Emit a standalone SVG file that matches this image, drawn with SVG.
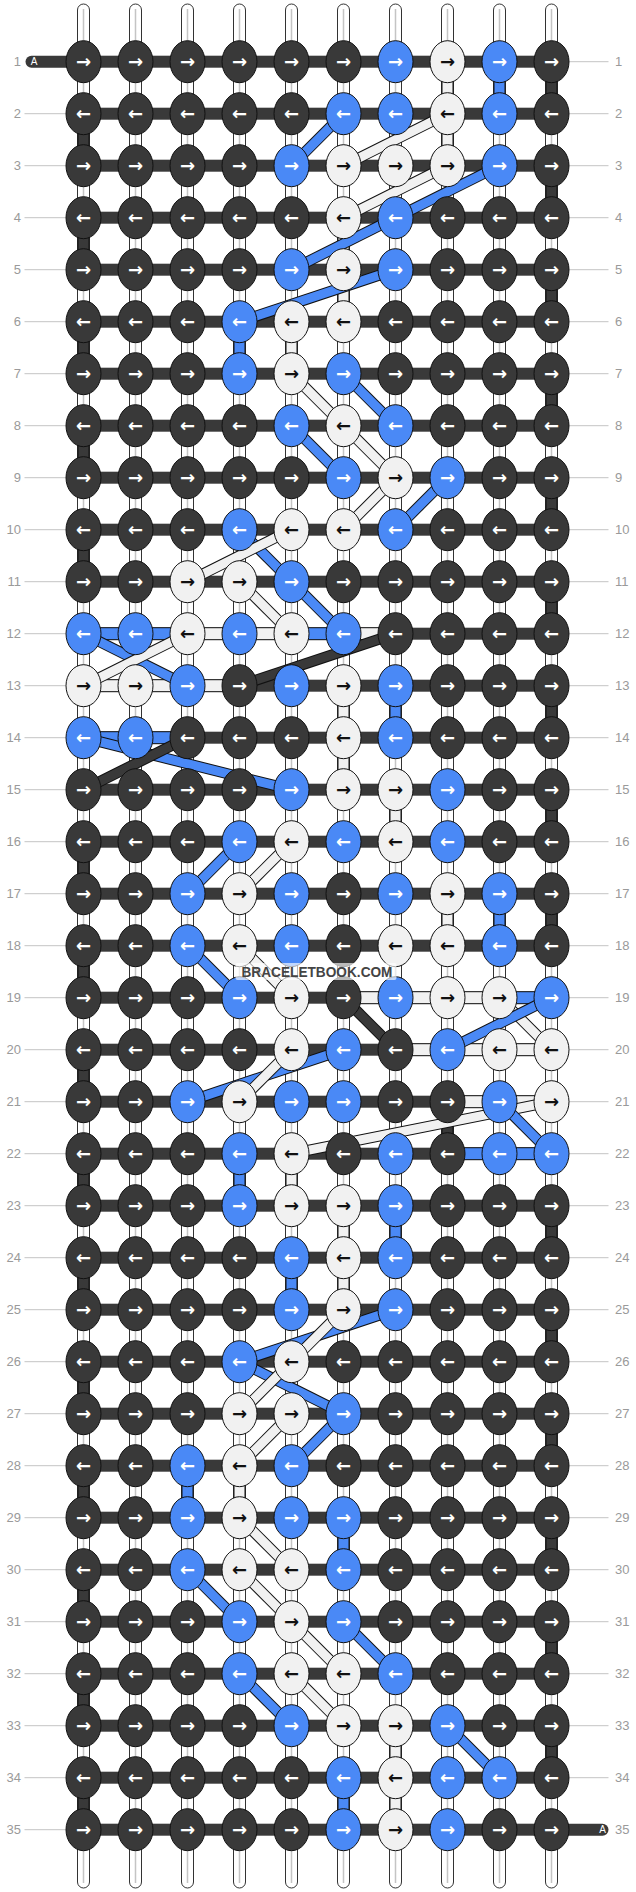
<svg xmlns="http://www.w3.org/2000/svg" width="636" height="1892" viewBox="0 0 636 1892">
<style>
.k ellipse{stroke:#111;stroke-width:1}
.D ellipse{fill:#393939}.B ellipse{fill:#4a89f6}.W ellipse{fill:#f1f1f1}
.k text{font-family:"DejaVu Sans",sans-serif;font-weight:bold;font-size:18px;text-anchor:middle;fill:#fff}
.W text{fill:#111}
.rod{fill:#fff;stroke:#333;stroke-width:1}
.rc{stroke:#c4c4c4;stroke-width:1.5}
.hd rect{fill:#393939}
.sD{fill:#393939;stroke:#111;stroke-width:1}
.sB{fill:#4a89f6;stroke:#111;stroke-width:1}
.sW{fill:#f1f1f1;stroke:#111;stroke-width:1}
.o{stroke:#111;stroke-width:11}
.fB{stroke:#4a89f6;stroke-width:9}
.fW{stroke:#f1f1f1;stroke-width:9}
.fD{stroke:#393939;stroke-width:9}
.ll{stroke:#c4c4c4;stroke-width:1}
.lbl{font-family:"Liberation Sans",Arial,sans-serif;font-size:13px;fill:#9a9a9a}
.le{text-anchor:end}
.am{font-family:"Liberation Sans",Arial,sans-serif;font-size:10px;fill:#fff;text-anchor:middle}
</style>
<rect width="636" height="1892" fill="#fff"/>
<g transform="translate(-0.5 0)">
<g id="connectors">
<g id="rods">
<rect class="rod" x="78" y="4" width="12" height="1884" rx="6"/><line class="rc" x1="84" y1="9" x2="84" y2="1883"/>
<rect class="rod" x="130" y="4" width="12" height="1884" rx="6"/><line class="rc" x1="136" y1="9" x2="136" y2="1883"/>
<rect class="rod" x="182" y="4" width="12" height="1884" rx="6"/><line class="rc" x1="188" y1="9" x2="188" y2="1883"/>
<rect class="rod" x="234" y="4" width="12" height="1884" rx="6"/><line class="rc" x1="240" y1="9" x2="240" y2="1883"/>
<rect class="rod" x="286" y="4" width="12" height="1884" rx="6"/><line class="rc" x1="292" y1="9" x2="292" y2="1883"/>
<rect class="rod" x="338" y="4" width="12" height="1884" rx="6"/><line class="rc" x1="344" y1="9" x2="344" y2="1883"/>
<rect class="rod" x="390" y="4" width="12" height="1884" rx="6"/><line class="rc" x1="396" y1="9" x2="396" y2="1883"/>
<rect class="rod" x="442" y="4" width="12" height="1884" rx="6"/><line class="rc" x1="448" y1="9" x2="448" y2="1883"/>
<rect class="rod" x="494" y="4" width="12" height="1884" rx="6"/><line class="rc" x1="500" y1="9" x2="500" y2="1883"/>
<rect class="rod" x="546" y="4" width="12" height="1884" rx="6"/><line class="rc" x1="552" y1="9" x2="552" y2="1883"/>
</g>
<g id="label-lines">
<line class="ll" x1="25" y1="113.7" x2="67" y2="113.7"/><line class="ll" x1="25" y1="165.7" x2="67" y2="165.7"/><line class="ll" x1="25" y1="217.7" x2="67" y2="217.7"/><line class="ll" x1="25" y1="269.7" x2="67" y2="269.7"/><line class="ll" x1="25" y1="321.7" x2="67" y2="321.7"/><line class="ll" x1="25" y1="373.7" x2="67" y2="373.7"/><line class="ll" x1="25" y1="425.7" x2="67" y2="425.7"/><line class="ll" x1="25" y1="477.7" x2="67" y2="477.7"/><line class="ll" x1="25" y1="529.7" x2="67" y2="529.7"/><line class="ll" x1="25" y1="581.7" x2="67" y2="581.7"/><line class="ll" x1="25" y1="633.7" x2="67" y2="633.7"/><line class="ll" x1="25" y1="685.7" x2="67" y2="685.7"/><line class="ll" x1="25" y1="737.7" x2="67" y2="737.7"/><line class="ll" x1="25" y1="789.7" x2="67" y2="789.7"/><line class="ll" x1="25" y1="841.7" x2="67" y2="841.7"/><line class="ll" x1="25" y1="893.7" x2="67" y2="893.7"/><line class="ll" x1="25" y1="945.7" x2="67" y2="945.7"/><line class="ll" x1="25" y1="997.7" x2="67" y2="997.7"/><line class="ll" x1="25" y1="1049.7" x2="67" y2="1049.7"/><line class="ll" x1="25" y1="1101.7" x2="67" y2="1101.7"/><line class="ll" x1="25" y1="1153.7" x2="67" y2="1153.7"/><line class="ll" x1="25" y1="1205.7" x2="67" y2="1205.7"/><line class="ll" x1="25" y1="1257.7" x2="67" y2="1257.7"/><line class="ll" x1="25" y1="1309.7" x2="67" y2="1309.7"/><line class="ll" x1="25" y1="1361.7" x2="67" y2="1361.7"/><line class="ll" x1="25" y1="1413.7" x2="67" y2="1413.7"/><line class="ll" x1="25" y1="1465.7" x2="67" y2="1465.7"/><line class="ll" x1="25" y1="1517.7" x2="67" y2="1517.7"/><line class="ll" x1="25" y1="1569.7" x2="67" y2="1569.7"/><line class="ll" x1="25" y1="1621.7" x2="67" y2="1621.7"/><line class="ll" x1="25" y1="1673.7" x2="67" y2="1673.7"/><line class="ll" x1="25" y1="1725.7" x2="67" y2="1725.7"/><line class="ll" x1="25" y1="1777.7" x2="67" y2="1777.7"/><line class="ll" x1="25" y1="1829.7" x2="67" y2="1829.7"/>
<line class="ll" x1="569" y1="61.7" x2="609" y2="61.7"/><line class="ll" x1="569" y1="113.7" x2="609" y2="113.7"/><line class="ll" x1="569" y1="165.7" x2="609" y2="165.7"/><line class="ll" x1="569" y1="217.7" x2="609" y2="217.7"/><line class="ll" x1="569" y1="269.7" x2="609" y2="269.7"/><line class="ll" x1="569" y1="321.7" x2="609" y2="321.7"/><line class="ll" x1="569" y1="373.7" x2="609" y2="373.7"/><line class="ll" x1="569" y1="425.7" x2="609" y2="425.7"/><line class="ll" x1="569" y1="477.7" x2="609" y2="477.7"/><line class="ll" x1="569" y1="529.7" x2="609" y2="529.7"/><line class="ll" x1="569" y1="581.7" x2="609" y2="581.7"/><line class="ll" x1="569" y1="633.7" x2="609" y2="633.7"/><line class="ll" x1="569" y1="685.7" x2="609" y2="685.7"/><line class="ll" x1="569" y1="737.7" x2="609" y2="737.7"/><line class="ll" x1="569" y1="789.7" x2="609" y2="789.7"/><line class="ll" x1="569" y1="841.7" x2="609" y2="841.7"/><line class="ll" x1="569" y1="893.7" x2="609" y2="893.7"/><line class="ll" x1="569" y1="945.7" x2="609" y2="945.7"/><line class="ll" x1="569" y1="997.7" x2="609" y2="997.7"/><line class="ll" x1="569" y1="1049.7" x2="609" y2="1049.7"/><line class="ll" x1="569" y1="1101.7" x2="609" y2="1101.7"/><line class="ll" x1="569" y1="1153.7" x2="609" y2="1153.7"/><line class="ll" x1="569" y1="1205.7" x2="609" y2="1205.7"/><line class="ll" x1="569" y1="1257.7" x2="609" y2="1257.7"/><line class="ll" x1="569" y1="1309.7" x2="609" y2="1309.7"/><line class="ll" x1="569" y1="1361.7" x2="609" y2="1361.7"/><line class="ll" x1="569" y1="1413.7" x2="609" y2="1413.7"/><line class="ll" x1="569" y1="1465.7" x2="609" y2="1465.7"/><line class="ll" x1="569" y1="1517.7" x2="609" y2="1517.7"/><line class="ll" x1="569" y1="1569.7" x2="609" y2="1569.7"/><line class="ll" x1="569" y1="1621.7" x2="609" y2="1621.7"/><line class="ll" x1="569" y1="1673.7" x2="609" y2="1673.7"/><line class="ll" x1="569" y1="1725.7" x2="609" y2="1725.7"/><line class="ll" x1="569" y1="1777.7" x2="609" y2="1777.7"/>
</g>
<g id="rows" class="hd">
<rect x="26" y="55.7" width="80" height="12" rx="6"/>
<rect x="530" y="1823.7" width="79" height="12" rx="6"/>
<rect x="84" y="55.7" width="468" height="12"/><rect x="84" y="107.7" width="468" height="12"/><rect x="84" y="159.7" width="468" height="12"/><rect x="84" y="211.7" width="468" height="12"/><rect x="84" y="263.7" width="468" height="12"/><rect x="84" y="315.7" width="468" height="12"/><rect x="84" y="367.7" width="468" height="12"/><rect x="84" y="419.7" width="468" height="12"/><rect x="84" y="471.7" width="468" height="12"/><rect x="84" y="523.7" width="468" height="12"/><rect x="84" y="575.7" width="468" height="12"/><rect x="84" y="627.7" width="468" height="12"/><rect x="84" y="679.7" width="468" height="12"/><rect x="84" y="731.7" width="468" height="12"/><rect x="84" y="783.7" width="468" height="12"/><rect x="84" y="835.7" width="468" height="12"/><rect x="84" y="887.7" width="468" height="12"/><rect x="84" y="939.7" width="468" height="12"/><rect x="84" y="991.7" width="468" height="12"/><rect x="84" y="1043.7" width="468" height="12"/><rect x="84" y="1095.7" width="468" height="12"/><rect x="84" y="1147.7" width="468" height="12"/><rect x="84" y="1199.7" width="468" height="12"/><rect x="84" y="1251.7" width="468" height="12"/><rect x="84" y="1303.7" width="468" height="12"/><rect x="84" y="1355.7" width="468" height="12"/><rect x="84" y="1407.7" width="468" height="12"/><rect x="84" y="1459.7" width="468" height="12"/><rect x="84" y="1511.7" width="468" height="12"/><rect x="84" y="1563.7" width="468" height="12"/><rect x="84" y="1615.7" width="468" height="12"/><rect x="84" y="1667.7" width="468" height="12"/><rect x="84" y="1719.7" width="468" height="12"/><rect x="84" y="1771.7" width="468" height="12"/><rect x="84" y="1823.7" width="468" height="12"/>
</g>
<g id="row-colour-segments">
<rect class="sB" x="84" y="627.7" width="104" height="12"/><rect class="sW" x="188" y="627.7" width="104" height="12"/><rect class="sB" x="292" y="627.7" width="52" height="12"/><rect class="sW" x="344" y="627.7" width="52" height="12"/>
<rect class="sW" x="84" y="679.7" width="156" height="12"/>
<rect class="sB" x="84" y="731.7" width="104" height="12"/>
<rect class="sW" x="344" y="991.7" width="156" height="12"/><rect class="sB" x="500" y="991.7" width="52" height="12"/>
<rect class="sW" x="396" y="1043.7" width="156" height="12"/>
<rect class="sW" x="448" y="1095.7" width="104" height="12"/>
<rect class="sB" x="448" y="1147.7" width="104" height="12"/>
</g>
<g id="turns">
<rect class="sD" x="546.5" y="61.7" width="11" height="52"/><rect class="sD" x="546.5" y="165.7" width="11" height="52"/><rect class="sD" x="546.5" y="269.7" width="11" height="52"/><rect class="sD" x="546.5" y="373.7" width="11" height="52"/><rect class="sD" x="546.5" y="477.7" width="11" height="52"/><rect class="sD" x="546.5" y="581.7" width="11" height="52"/><rect class="sD" x="546.5" y="685.7" width="11" height="52"/><rect class="sD" x="546.5" y="789.7" width="11" height="52"/><rect class="sD" x="546.5" y="893.7" width="11" height="52"/><rect class="sD" x="546.5" y="1205.7" width="11" height="52"/><rect class="sD" x="546.5" y="1309.7" width="11" height="52"/><rect class="sD" x="546.5" y="1413.7" width="11" height="52"/><rect class="sD" x="546.5" y="1517.7" width="11" height="52"/><rect class="sD" x="546.5" y="1621.7" width="11" height="52"/><rect class="sD" x="546.5" y="1725.7" width="11" height="52"/>
<rect class="sD" x="78.5" y="113.7" width="11" height="52"/><rect class="sD" x="78.5" y="217.7" width="11" height="52"/><rect class="sD" x="78.5" y="321.7" width="11" height="52"/><rect class="sD" x="78.5" y="425.7" width="11" height="52"/><rect class="sD" x="78.5" y="529.7" width="11" height="52"/><rect class="sD" x="78.5" y="841.7" width="11" height="52"/><rect class="sD" x="78.5" y="945.7" width="11" height="52"/><rect class="sD" x="78.5" y="1049.7" width="11" height="52"/><rect class="sD" x="78.5" y="1153.7" width="11" height="52"/><rect class="sD" x="78.5" y="1257.7" width="11" height="52"/><rect class="sD" x="78.5" y="1361.7" width="11" height="52"/><rect class="sD" x="78.5" y="1465.7" width="11" height="52"/><rect class="sD" x="78.5" y="1569.7" width="11" height="52"/><rect class="sD" x="78.5" y="1673.7" width="11" height="52"/><rect class="sD" x="78.5" y="1777.7" width="11" height="52"/>
<rect class="sD" x="442.5" y="1101.7" width="11" height="52"/>
</g>
<g id="column-colour-segments">
<rect class="sB" x="494.5" y="61.7" width="11" height="52"/><rect class="sB" x="234.5" y="321.7" width="11" height="52"/><rect class="sB" x="390.5" y="685.7" width="11" height="52"/><rect class="sB" x="494.5" y="893.7" width="11" height="52"/><rect class="sB" x="234.5" y="1153.7" width="11" height="52"/><rect class="sB" x="390.5" y="1205.7" width="11" height="52"/><rect class="sB" x="286.5" y="1257.7" width="11" height="52"/><rect class="sB" x="182.5" y="1465.7" width="11" height="52"/><rect class="sB" x="338.5" y="1517.7" width="11" height="52"/><rect class="sB" x="338.5" y="1777.7" width="11" height="52"/>
<rect class="sW" x="442.5" y="61.7" width="11" height="52"/><rect class="sW" x="442.5" y="113.7" width="11" height="52"/><rect class="sW" x="338.5" y="217.7" width="11" height="52"/><rect class="sW" x="338.5" y="269.7" width="11" height="52"/><rect class="sW" x="286.5" y="321.7" width="11" height="52"/><rect class="sW" x="338.5" y="685.7" width="11" height="52"/><rect class="sW" x="338.5" y="737.7" width="11" height="52"/><rect class="sW" x="390.5" y="789.7" width="11" height="52"/><rect class="sW" x="442.5" y="893.7" width="11" height="52"/><rect class="sW" x="286.5" y="1153.7" width="11" height="52"/><rect class="sW" x="338.5" y="1205.7" width="11" height="52"/><rect class="sW" x="338.5" y="1257.7" width="11" height="52"/><rect class="sW" x="234.5" y="1465.7" width="11" height="52"/><rect class="sW" x="390.5" y="1725.7" width="11" height="52"/><rect class="sW" x="390.5" y="1777.7" width="11" height="52"/>
</g>
<g id="diagonals">
<line class="o" x1="344" y1="113.7" x2="292" y2="165.7"/><line class="fB" x1="344" y1="113.7" x2="292" y2="165.7"/>
<line class="o" x1="448" y1="113.7" x2="344" y2="165.7"/><line class="fW" x1="448" y1="113.7" x2="344" y2="165.7"/>
<line class="o" x1="448" y1="165.7" x2="344" y2="217.7"/><line class="fW" x1="448" y1="165.7" x2="344" y2="217.7"/>
<line class="o" x1="500" y1="165.7" x2="396" y2="217.7"/><line class="fB" x1="500" y1="165.7" x2="396" y2="217.7"/>
<line class="o" x1="396" y1="217.7" x2="292" y2="269.7"/><line class="fB" x1="396" y1="217.7" x2="292" y2="269.7"/>
<line class="o" x1="396" y1="269.7" x2="240" y2="321.7"/><line class="fB" x1="396" y1="269.7" x2="240" y2="321.7"/>
<line class="o" x1="292" y1="373.7" x2="344" y2="425.7"/><line class="fW" x1="292" y1="373.7" x2="344" y2="425.7"/>
<line class="o" x1="344" y1="373.7" x2="396" y2="425.7"/><line class="fB" x1="344" y1="373.7" x2="396" y2="425.7"/>
<line class="o" x1="292" y1="425.7" x2="344" y2="477.7"/><line class="fB" x1="292" y1="425.7" x2="344" y2="477.7"/>
<line class="o" x1="344" y1="425.7" x2="396" y2="477.7"/><line class="fW" x1="344" y1="425.7" x2="396" y2="477.7"/>
<line class="o" x1="396" y1="477.7" x2="344" y2="529.7"/><line class="fW" x1="396" y1="477.7" x2="344" y2="529.7"/>
<line class="o" x1="448" y1="477.7" x2="396" y2="529.7"/><line class="fB" x1="448" y1="477.7" x2="396" y2="529.7"/>
<line class="o" x1="240" y1="529.7" x2="292" y2="581.7"/><line class="fB" x1="240" y1="529.7" x2="292" y2="581.7"/>
<line class="o" x1="292" y1="529.7" x2="188" y2="581.7"/><line class="fW" x1="292" y1="529.7" x2="188" y2="581.7"/>
<line class="o" x1="240" y1="581.7" x2="292" y2="633.7"/><line class="fW" x1="240" y1="581.7" x2="292" y2="633.7"/>
<line class="o" x1="292" y1="581.7" x2="344" y2="633.7"/><line class="fB" x1="292" y1="581.7" x2="344" y2="633.7"/>
<line class="o" x1="84" y1="633.7" x2="188" y2="685.7"/><line class="fB" x1="84" y1="633.7" x2="188" y2="685.7"/>
<line class="o" x1="188" y1="633.7" x2="84" y2="685.7"/><line class="fW" x1="188" y1="633.7" x2="84" y2="685.7"/>
<line class="o" x1="396" y1="633.7" x2="240" y2="685.7"/><line class="fD" x1="396" y1="633.7" x2="240" y2="685.7"/>
<line class="o" x1="84" y1="737.7" x2="292" y2="789.7"/><line class="fB" x1="84" y1="737.7" x2="292" y2="789.7"/>
<line class="o" x1="188" y1="737.7" x2="84" y2="789.7"/><line class="fD" x1="188" y1="737.7" x2="84" y2="789.7"/>
<line class="o" x1="240" y1="841.7" x2="188" y2="893.7"/><line class="fB" x1="240" y1="841.7" x2="188" y2="893.7"/>
<line class="o" x1="292" y1="841.7" x2="240" y2="893.7"/><line class="fW" x1="292" y1="841.7" x2="240" y2="893.7"/>
<line class="o" x1="188" y1="945.7" x2="240" y2="997.7"/><line class="fB" x1="188" y1="945.7" x2="240" y2="997.7"/>
<line class="o" x1="240" y1="945.7" x2="292" y2="997.7"/><line class="fW" x1="240" y1="945.7" x2="292" y2="997.7"/>
<line class="o" x1="344" y1="997.7" x2="396" y2="1049.7"/><line class="fD" x1="344" y1="997.7" x2="396" y2="1049.7"/>
<line class="o" x1="500" y1="997.7" x2="552" y2="1049.7"/><line class="fW" x1="500" y1="997.7" x2="552" y2="1049.7"/>
<line class="o" x1="552" y1="997.7" x2="448" y2="1049.7"/><line class="fB" x1="552" y1="997.7" x2="448" y2="1049.7"/>
<line class="o" x1="344" y1="1049.7" x2="188" y2="1101.7"/><line class="fB" x1="344" y1="1049.7" x2="188" y2="1101.7"/>
<line class="o" x1="292" y1="1049.7" x2="240" y2="1101.7"/><line class="fW" x1="292" y1="1049.7" x2="240" y2="1101.7"/>
<line class="o" x1="552" y1="1101.7" x2="292" y2="1153.7"/><line class="fW" x1="552" y1="1101.7" x2="292" y2="1153.7"/>
<line class="o" x1="500" y1="1101.7" x2="552" y2="1153.7"/><line class="fB" x1="500" y1="1101.7" x2="552" y2="1153.7"/>
<line class="o" x1="396" y1="1309.7" x2="240" y2="1361.7"/><line class="fB" x1="396" y1="1309.7" x2="240" y2="1361.7"/>
<line class="o" x1="344" y1="1309.7" x2="292" y2="1361.7"/><line class="fW" x1="344" y1="1309.7" x2="292" y2="1361.7"/>
<line class="o" x1="240" y1="1361.7" x2="344" y2="1413.7"/><line class="fB" x1="240" y1="1361.7" x2="344" y2="1413.7"/>
<line class="o" x1="292" y1="1361.7" x2="240" y2="1413.7"/><line class="fW" x1="292" y1="1361.7" x2="240" y2="1413.7"/>
<line class="o" x1="292" y1="1413.7" x2="240" y2="1465.7"/><line class="fW" x1="292" y1="1413.7" x2="240" y2="1465.7"/>
<line class="o" x1="344" y1="1413.7" x2="292" y2="1465.7"/><line class="fB" x1="344" y1="1413.7" x2="292" y2="1465.7"/>
<line class="o" x1="240" y1="1517.7" x2="292" y2="1569.7"/><line class="fW" x1="240" y1="1517.7" x2="292" y2="1569.7"/>
<line class="o" x1="188" y1="1569.7" x2="240" y2="1621.7"/><line class="fB" x1="188" y1="1569.7" x2="240" y2="1621.7"/>
<line class="o" x1="240" y1="1569.7" x2="292" y2="1621.7"/><line class="fW" x1="240" y1="1569.7" x2="292" y2="1621.7"/>
<line class="o" x1="292" y1="1621.7" x2="344" y2="1673.7"/><line class="fW" x1="292" y1="1621.7" x2="344" y2="1673.7"/>
<line class="o" x1="344" y1="1621.7" x2="396" y2="1673.7"/><line class="fB" x1="344" y1="1621.7" x2="396" y2="1673.7"/>
<line class="o" x1="240" y1="1673.7" x2="292" y2="1725.7"/><line class="fB" x1="240" y1="1673.7" x2="292" y2="1725.7"/>
<line class="o" x1="292" y1="1673.7" x2="344" y2="1725.7"/><line class="fW" x1="292" y1="1673.7" x2="344" y2="1725.7"/>
<line class="o" x1="448" y1="1725.7" x2="500" y2="1777.7"/><line class="fB" x1="448" y1="1725.7" x2="500" y2="1777.7"/>
</g>
</g>
<g id="knots">
<g id="k1-1" class="k D" transform="translate(84 61.7)"><ellipse rx="17.5" ry="21"/><text y="6">→</text></g>
<g id="k1-2" class="k D" transform="translate(136 61.7)"><ellipse rx="17.5" ry="21"/><text y="6">→</text></g>
<g id="k1-3" class="k D" transform="translate(188 61.7)"><ellipse rx="17.5" ry="21"/><text y="6">→</text></g>
<g id="k1-4" class="k D" transform="translate(240 61.7)"><ellipse rx="17.5" ry="21"/><text y="6">→</text></g>
<g id="k1-5" class="k D" transform="translate(292 61.7)"><ellipse rx="17.5" ry="21"/><text y="6">→</text></g>
<g id="k1-6" class="k D" transform="translate(344 61.7)"><ellipse rx="17.5" ry="21"/><text y="6">→</text></g>
<g id="k1-7" class="k B" transform="translate(396 61.7)"><ellipse rx="17.5" ry="21"/><text y="6">→</text></g>
<g id="k1-8" class="k W" transform="translate(448 61.7)"><ellipse rx="17.5" ry="21"/><text y="6">→</text></g>
<g id="k1-9" class="k B" transform="translate(500 61.7)"><ellipse rx="17.5" ry="21"/><text y="6">→</text></g>
<g id="k1-10" class="k D" transform="translate(552 61.7)"><ellipse rx="17.5" ry="21"/><text y="6">→</text></g>
<g id="k2-1" class="k D" transform="translate(84 113.7)"><ellipse rx="17.5" ry="21"/><text y="6">←</text></g>
<g id="k2-2" class="k D" transform="translate(136 113.7)"><ellipse rx="17.5" ry="21"/><text y="6">←</text></g>
<g id="k2-3" class="k D" transform="translate(188 113.7)"><ellipse rx="17.5" ry="21"/><text y="6">←</text></g>
<g id="k2-4" class="k D" transform="translate(240 113.7)"><ellipse rx="17.5" ry="21"/><text y="6">←</text></g>
<g id="k2-5" class="k D" transform="translate(292 113.7)"><ellipse rx="17.5" ry="21"/><text y="6">←</text></g>
<g id="k2-6" class="k B" transform="translate(344 113.7)"><ellipse rx="17.5" ry="21"/><text y="6">←</text></g>
<g id="k2-7" class="k B" transform="translate(396 113.7)"><ellipse rx="17.5" ry="21"/><text y="6">←</text></g>
<g id="k2-8" class="k W" transform="translate(448 113.7)"><ellipse rx="17.5" ry="21"/><text y="6">←</text></g>
<g id="k2-9" class="k B" transform="translate(500 113.7)"><ellipse rx="17.5" ry="21"/><text y="6">←</text></g>
<g id="k2-10" class="k D" transform="translate(552 113.7)"><ellipse rx="17.5" ry="21"/><text y="6">←</text></g>
<g id="k3-1" class="k D" transform="translate(84 165.7)"><ellipse rx="17.5" ry="21"/><text y="6">→</text></g>
<g id="k3-2" class="k D" transform="translate(136 165.7)"><ellipse rx="17.5" ry="21"/><text y="6">→</text></g>
<g id="k3-3" class="k D" transform="translate(188 165.7)"><ellipse rx="17.5" ry="21"/><text y="6">→</text></g>
<g id="k3-4" class="k D" transform="translate(240 165.7)"><ellipse rx="17.5" ry="21"/><text y="6">→</text></g>
<g id="k3-5" class="k B" transform="translate(292 165.7)"><ellipse rx="17.5" ry="21"/><text y="6">→</text></g>
<g id="k3-6" class="k W" transform="translate(344 165.7)"><ellipse rx="17.5" ry="21"/><text y="6">→</text></g>
<g id="k3-7" class="k W" transform="translate(396 165.7)"><ellipse rx="17.5" ry="21"/><text y="6">→</text></g>
<g id="k3-8" class="k W" transform="translate(448 165.7)"><ellipse rx="17.5" ry="21"/><text y="6">→</text></g>
<g id="k3-9" class="k B" transform="translate(500 165.7)"><ellipse rx="17.5" ry="21"/><text y="6">→</text></g>
<g id="k3-10" class="k D" transform="translate(552 165.7)"><ellipse rx="17.5" ry="21"/><text y="6">→</text></g>
<g id="k4-1" class="k D" transform="translate(84 217.7)"><ellipse rx="17.5" ry="21"/><text y="6">←</text></g>
<g id="k4-2" class="k D" transform="translate(136 217.7)"><ellipse rx="17.5" ry="21"/><text y="6">←</text></g>
<g id="k4-3" class="k D" transform="translate(188 217.7)"><ellipse rx="17.5" ry="21"/><text y="6">←</text></g>
<g id="k4-4" class="k D" transform="translate(240 217.7)"><ellipse rx="17.5" ry="21"/><text y="6">←</text></g>
<g id="k4-5" class="k D" transform="translate(292 217.7)"><ellipse rx="17.5" ry="21"/><text y="6">←</text></g>
<g id="k4-6" class="k W" transform="translate(344 217.7)"><ellipse rx="17.5" ry="21"/><text y="6">←</text></g>
<g id="k4-7" class="k B" transform="translate(396 217.7)"><ellipse rx="17.5" ry="21"/><text y="6">←</text></g>
<g id="k4-8" class="k D" transform="translate(448 217.7)"><ellipse rx="17.5" ry="21"/><text y="6">←</text></g>
<g id="k4-9" class="k D" transform="translate(500 217.7)"><ellipse rx="17.5" ry="21"/><text y="6">←</text></g>
<g id="k4-10" class="k D" transform="translate(552 217.7)"><ellipse rx="17.5" ry="21"/><text y="6">←</text></g>
<g id="k5-1" class="k D" transform="translate(84 269.7)"><ellipse rx="17.5" ry="21"/><text y="6">→</text></g>
<g id="k5-2" class="k D" transform="translate(136 269.7)"><ellipse rx="17.5" ry="21"/><text y="6">→</text></g>
<g id="k5-3" class="k D" transform="translate(188 269.7)"><ellipse rx="17.5" ry="21"/><text y="6">→</text></g>
<g id="k5-4" class="k D" transform="translate(240 269.7)"><ellipse rx="17.5" ry="21"/><text y="6">→</text></g>
<g id="k5-5" class="k B" transform="translate(292 269.7)"><ellipse rx="17.5" ry="21"/><text y="6">→</text></g>
<g id="k5-6" class="k W" transform="translate(344 269.7)"><ellipse rx="17.5" ry="21"/><text y="6">→</text></g>
<g id="k5-7" class="k B" transform="translate(396 269.7)"><ellipse rx="17.5" ry="21"/><text y="6">→</text></g>
<g id="k5-8" class="k D" transform="translate(448 269.7)"><ellipse rx="17.5" ry="21"/><text y="6">→</text></g>
<g id="k5-9" class="k D" transform="translate(500 269.7)"><ellipse rx="17.5" ry="21"/><text y="6">→</text></g>
<g id="k5-10" class="k D" transform="translate(552 269.7)"><ellipse rx="17.5" ry="21"/><text y="6">→</text></g>
<g id="k6-1" class="k D" transform="translate(84 321.7)"><ellipse rx="17.5" ry="21"/><text y="6">←</text></g>
<g id="k6-2" class="k D" transform="translate(136 321.7)"><ellipse rx="17.5" ry="21"/><text y="6">←</text></g>
<g id="k6-3" class="k D" transform="translate(188 321.7)"><ellipse rx="17.5" ry="21"/><text y="6">←</text></g>
<g id="k6-4" class="k B" transform="translate(240 321.7)"><ellipse rx="17.5" ry="21"/><text y="6">←</text></g>
<g id="k6-5" class="k W" transform="translate(292 321.7)"><ellipse rx="17.5" ry="21"/><text y="6">←</text></g>
<g id="k6-6" class="k W" transform="translate(344 321.7)"><ellipse rx="17.5" ry="21"/><text y="6">←</text></g>
<g id="k6-7" class="k D" transform="translate(396 321.7)"><ellipse rx="17.5" ry="21"/><text y="6">←</text></g>
<g id="k6-8" class="k D" transform="translate(448 321.7)"><ellipse rx="17.5" ry="21"/><text y="6">←</text></g>
<g id="k6-9" class="k D" transform="translate(500 321.7)"><ellipse rx="17.5" ry="21"/><text y="6">←</text></g>
<g id="k6-10" class="k D" transform="translate(552 321.7)"><ellipse rx="17.5" ry="21"/><text y="6">←</text></g>
<g id="k7-1" class="k D" transform="translate(84 373.7)"><ellipse rx="17.5" ry="21"/><text y="6">→</text></g>
<g id="k7-2" class="k D" transform="translate(136 373.7)"><ellipse rx="17.5" ry="21"/><text y="6">→</text></g>
<g id="k7-3" class="k D" transform="translate(188 373.7)"><ellipse rx="17.5" ry="21"/><text y="6">→</text></g>
<g id="k7-4" class="k B" transform="translate(240 373.7)"><ellipse rx="17.5" ry="21"/><text y="6">→</text></g>
<g id="k7-5" class="k W" transform="translate(292 373.7)"><ellipse rx="17.5" ry="21"/><text y="6">→</text></g>
<g id="k7-6" class="k B" transform="translate(344 373.7)"><ellipse rx="17.5" ry="21"/><text y="6">→</text></g>
<g id="k7-7" class="k D" transform="translate(396 373.7)"><ellipse rx="17.5" ry="21"/><text y="6">→</text></g>
<g id="k7-8" class="k D" transform="translate(448 373.7)"><ellipse rx="17.5" ry="21"/><text y="6">→</text></g>
<g id="k7-9" class="k D" transform="translate(500 373.7)"><ellipse rx="17.5" ry="21"/><text y="6">→</text></g>
<g id="k7-10" class="k D" transform="translate(552 373.7)"><ellipse rx="17.5" ry="21"/><text y="6">→</text></g>
<g id="k8-1" class="k D" transform="translate(84 425.7)"><ellipse rx="17.5" ry="21"/><text y="6">←</text></g>
<g id="k8-2" class="k D" transform="translate(136 425.7)"><ellipse rx="17.5" ry="21"/><text y="6">←</text></g>
<g id="k8-3" class="k D" transform="translate(188 425.7)"><ellipse rx="17.5" ry="21"/><text y="6">←</text></g>
<g id="k8-4" class="k D" transform="translate(240 425.7)"><ellipse rx="17.5" ry="21"/><text y="6">←</text></g>
<g id="k8-5" class="k B" transform="translate(292 425.7)"><ellipse rx="17.5" ry="21"/><text y="6">←</text></g>
<g id="k8-6" class="k W" transform="translate(344 425.7)"><ellipse rx="17.5" ry="21"/><text y="6">←</text></g>
<g id="k8-7" class="k B" transform="translate(396 425.7)"><ellipse rx="17.5" ry="21"/><text y="6">←</text></g>
<g id="k8-8" class="k D" transform="translate(448 425.7)"><ellipse rx="17.5" ry="21"/><text y="6">←</text></g>
<g id="k8-9" class="k D" transform="translate(500 425.7)"><ellipse rx="17.5" ry="21"/><text y="6">←</text></g>
<g id="k8-10" class="k D" transform="translate(552 425.7)"><ellipse rx="17.5" ry="21"/><text y="6">←</text></g>
<g id="k9-1" class="k D" transform="translate(84 477.7)"><ellipse rx="17.5" ry="21"/><text y="6">→</text></g>
<g id="k9-2" class="k D" transform="translate(136 477.7)"><ellipse rx="17.5" ry="21"/><text y="6">→</text></g>
<g id="k9-3" class="k D" transform="translate(188 477.7)"><ellipse rx="17.5" ry="21"/><text y="6">→</text></g>
<g id="k9-4" class="k D" transform="translate(240 477.7)"><ellipse rx="17.5" ry="21"/><text y="6">→</text></g>
<g id="k9-5" class="k D" transform="translate(292 477.7)"><ellipse rx="17.5" ry="21"/><text y="6">→</text></g>
<g id="k9-6" class="k B" transform="translate(344 477.7)"><ellipse rx="17.5" ry="21"/><text y="6">→</text></g>
<g id="k9-7" class="k W" transform="translate(396 477.7)"><ellipse rx="17.5" ry="21"/><text y="6">→</text></g>
<g id="k9-8" class="k B" transform="translate(448 477.7)"><ellipse rx="17.5" ry="21"/><text y="6">→</text></g>
<g id="k9-9" class="k D" transform="translate(500 477.7)"><ellipse rx="17.5" ry="21"/><text y="6">→</text></g>
<g id="k9-10" class="k D" transform="translate(552 477.7)"><ellipse rx="17.5" ry="21"/><text y="6">→</text></g>
<g id="k10-1" class="k D" transform="translate(84 529.7)"><ellipse rx="17.5" ry="21"/><text y="6">←</text></g>
<g id="k10-2" class="k D" transform="translate(136 529.7)"><ellipse rx="17.5" ry="21"/><text y="6">←</text></g>
<g id="k10-3" class="k D" transform="translate(188 529.7)"><ellipse rx="17.5" ry="21"/><text y="6">←</text></g>
<g id="k10-4" class="k B" transform="translate(240 529.7)"><ellipse rx="17.5" ry="21"/><text y="6">←</text></g>
<g id="k10-5" class="k W" transform="translate(292 529.7)"><ellipse rx="17.5" ry="21"/><text y="6">←</text></g>
<g id="k10-6" class="k W" transform="translate(344 529.7)"><ellipse rx="17.5" ry="21"/><text y="6">←</text></g>
<g id="k10-7" class="k B" transform="translate(396 529.7)"><ellipse rx="17.5" ry="21"/><text y="6">←</text></g>
<g id="k10-8" class="k D" transform="translate(448 529.7)"><ellipse rx="17.5" ry="21"/><text y="6">←</text></g>
<g id="k10-9" class="k D" transform="translate(500 529.7)"><ellipse rx="17.5" ry="21"/><text y="6">←</text></g>
<g id="k10-10" class="k D" transform="translate(552 529.7)"><ellipse rx="17.5" ry="21"/><text y="6">←</text></g>
<g id="k11-1" class="k D" transform="translate(84 581.7)"><ellipse rx="17.5" ry="21"/><text y="6">→</text></g>
<g id="k11-2" class="k D" transform="translate(136 581.7)"><ellipse rx="17.5" ry="21"/><text y="6">→</text></g>
<g id="k11-3" class="k W" transform="translate(188 581.7)"><ellipse rx="17.5" ry="21"/><text y="6">→</text></g>
<g id="k11-4" class="k W" transform="translate(240 581.7)"><ellipse rx="17.5" ry="21"/><text y="6">→</text></g>
<g id="k11-5" class="k B" transform="translate(292 581.7)"><ellipse rx="17.5" ry="21"/><text y="6">→</text></g>
<g id="k11-6" class="k D" transform="translate(344 581.7)"><ellipse rx="17.5" ry="21"/><text y="6">→</text></g>
<g id="k11-7" class="k D" transform="translate(396 581.7)"><ellipse rx="17.5" ry="21"/><text y="6">→</text></g>
<g id="k11-8" class="k D" transform="translate(448 581.7)"><ellipse rx="17.5" ry="21"/><text y="6">→</text></g>
<g id="k11-9" class="k D" transform="translate(500 581.7)"><ellipse rx="17.5" ry="21"/><text y="6">→</text></g>
<g id="k11-10" class="k D" transform="translate(552 581.7)"><ellipse rx="17.5" ry="21"/><text y="6">→</text></g>
<g id="k12-1" class="k B" transform="translate(84 633.7)"><ellipse rx="17.5" ry="21"/><text y="6">←</text></g>
<g id="k12-2" class="k B" transform="translate(136 633.7)"><ellipse rx="17.5" ry="21"/><text y="6">←</text></g>
<g id="k12-3" class="k W" transform="translate(188 633.7)"><ellipse rx="17.5" ry="21"/><text y="6">←</text></g>
<g id="k12-4" class="k B" transform="translate(240 633.7)"><ellipse rx="17.5" ry="21"/><text y="6">←</text></g>
<g id="k12-5" class="k W" transform="translate(292 633.7)"><ellipse rx="17.5" ry="21"/><text y="6">←</text></g>
<g id="k12-6" class="k B" transform="translate(344 633.7)"><ellipse rx="17.5" ry="21"/><text y="6">←</text></g>
<g id="k12-7" class="k D" transform="translate(396 633.7)"><ellipse rx="17.5" ry="21"/><text y="6">←</text></g>
<g id="k12-8" class="k D" transform="translate(448 633.7)"><ellipse rx="17.5" ry="21"/><text y="6">←</text></g>
<g id="k12-9" class="k D" transform="translate(500 633.7)"><ellipse rx="17.5" ry="21"/><text y="6">←</text></g>
<g id="k12-10" class="k D" transform="translate(552 633.7)"><ellipse rx="17.5" ry="21"/><text y="6">←</text></g>
<g id="k13-1" class="k W" transform="translate(84 685.7)"><ellipse rx="17.5" ry="21"/><text y="6">→</text></g>
<g id="k13-2" class="k W" transform="translate(136 685.7)"><ellipse rx="17.5" ry="21"/><text y="6">→</text></g>
<g id="k13-3" class="k B" transform="translate(188 685.7)"><ellipse rx="17.5" ry="21"/><text y="6">→</text></g>
<g id="k13-4" class="k D" transform="translate(240 685.7)"><ellipse rx="17.5" ry="21"/><text y="6">→</text></g>
<g id="k13-5" class="k B" transform="translate(292 685.7)"><ellipse rx="17.5" ry="21"/><text y="6">→</text></g>
<g id="k13-6" class="k W" transform="translate(344 685.7)"><ellipse rx="17.5" ry="21"/><text y="6">→</text></g>
<g id="k13-7" class="k B" transform="translate(396 685.7)"><ellipse rx="17.5" ry="21"/><text y="6">→</text></g>
<g id="k13-8" class="k D" transform="translate(448 685.7)"><ellipse rx="17.5" ry="21"/><text y="6">→</text></g>
<g id="k13-9" class="k D" transform="translate(500 685.7)"><ellipse rx="17.5" ry="21"/><text y="6">→</text></g>
<g id="k13-10" class="k D" transform="translate(552 685.7)"><ellipse rx="17.5" ry="21"/><text y="6">→</text></g>
<g id="k14-1" class="k B" transform="translate(84 737.7)"><ellipse rx="17.5" ry="21"/><text y="6">←</text></g>
<g id="k14-2" class="k B" transform="translate(136 737.7)"><ellipse rx="17.5" ry="21"/><text y="6">←</text></g>
<g id="k14-3" class="k D" transform="translate(188 737.7)"><ellipse rx="17.5" ry="21"/><text y="6">←</text></g>
<g id="k14-4" class="k D" transform="translate(240 737.7)"><ellipse rx="17.5" ry="21"/><text y="6">←</text></g>
<g id="k14-5" class="k D" transform="translate(292 737.7)"><ellipse rx="17.5" ry="21"/><text y="6">←</text></g>
<g id="k14-6" class="k W" transform="translate(344 737.7)"><ellipse rx="17.5" ry="21"/><text y="6">←</text></g>
<g id="k14-7" class="k B" transform="translate(396 737.7)"><ellipse rx="17.5" ry="21"/><text y="6">←</text></g>
<g id="k14-8" class="k D" transform="translate(448 737.7)"><ellipse rx="17.5" ry="21"/><text y="6">←</text></g>
<g id="k14-9" class="k D" transform="translate(500 737.7)"><ellipse rx="17.5" ry="21"/><text y="6">←</text></g>
<g id="k14-10" class="k D" transform="translate(552 737.7)"><ellipse rx="17.5" ry="21"/><text y="6">←</text></g>
<g id="k15-1" class="k D" transform="translate(84 789.7)"><ellipse rx="17.5" ry="21"/><text y="6">→</text></g>
<g id="k15-2" class="k D" transform="translate(136 789.7)"><ellipse rx="17.5" ry="21"/><text y="6">→</text></g>
<g id="k15-3" class="k D" transform="translate(188 789.7)"><ellipse rx="17.5" ry="21"/><text y="6">→</text></g>
<g id="k15-4" class="k D" transform="translate(240 789.7)"><ellipse rx="17.5" ry="21"/><text y="6">→</text></g>
<g id="k15-5" class="k B" transform="translate(292 789.7)"><ellipse rx="17.5" ry="21"/><text y="6">→</text></g>
<g id="k15-6" class="k W" transform="translate(344 789.7)"><ellipse rx="17.5" ry="21"/><text y="6">→</text></g>
<g id="k15-7" class="k W" transform="translate(396 789.7)"><ellipse rx="17.5" ry="21"/><text y="6">→</text></g>
<g id="k15-8" class="k B" transform="translate(448 789.7)"><ellipse rx="17.5" ry="21"/><text y="6">→</text></g>
<g id="k15-9" class="k D" transform="translate(500 789.7)"><ellipse rx="17.5" ry="21"/><text y="6">→</text></g>
<g id="k15-10" class="k D" transform="translate(552 789.7)"><ellipse rx="17.5" ry="21"/><text y="6">→</text></g>
<g id="k16-1" class="k D" transform="translate(84 841.7)"><ellipse rx="17.5" ry="21"/><text y="6">←</text></g>
<g id="k16-2" class="k D" transform="translate(136 841.7)"><ellipse rx="17.5" ry="21"/><text y="6">←</text></g>
<g id="k16-3" class="k D" transform="translate(188 841.7)"><ellipse rx="17.5" ry="21"/><text y="6">←</text></g>
<g id="k16-4" class="k B" transform="translate(240 841.7)"><ellipse rx="17.5" ry="21"/><text y="6">←</text></g>
<g id="k16-5" class="k W" transform="translate(292 841.7)"><ellipse rx="17.5" ry="21"/><text y="6">←</text></g>
<g id="k16-6" class="k B" transform="translate(344 841.7)"><ellipse rx="17.5" ry="21"/><text y="6">←</text></g>
<g id="k16-7" class="k W" transform="translate(396 841.7)"><ellipse rx="17.5" ry="21"/><text y="6">←</text></g>
<g id="k16-8" class="k B" transform="translate(448 841.7)"><ellipse rx="17.5" ry="21"/><text y="6">←</text></g>
<g id="k16-9" class="k D" transform="translate(500 841.7)"><ellipse rx="17.5" ry="21"/><text y="6">←</text></g>
<g id="k16-10" class="k D" transform="translate(552 841.7)"><ellipse rx="17.5" ry="21"/><text y="6">←</text></g>
<g id="k17-1" class="k D" transform="translate(84 893.7)"><ellipse rx="17.5" ry="21"/><text y="6">→</text></g>
<g id="k17-2" class="k D" transform="translate(136 893.7)"><ellipse rx="17.5" ry="21"/><text y="6">→</text></g>
<g id="k17-3" class="k B" transform="translate(188 893.7)"><ellipse rx="17.5" ry="21"/><text y="6">→</text></g>
<g id="k17-4" class="k W" transform="translate(240 893.7)"><ellipse rx="17.5" ry="21"/><text y="6">→</text></g>
<g id="k17-5" class="k B" transform="translate(292 893.7)"><ellipse rx="17.5" ry="21"/><text y="6">→</text></g>
<g id="k17-6" class="k D" transform="translate(344 893.7)"><ellipse rx="17.5" ry="21"/><text y="6">→</text></g>
<g id="k17-7" class="k B" transform="translate(396 893.7)"><ellipse rx="17.5" ry="21"/><text y="6">→</text></g>
<g id="k17-8" class="k W" transform="translate(448 893.7)"><ellipse rx="17.5" ry="21"/><text y="6">→</text></g>
<g id="k17-9" class="k B" transform="translate(500 893.7)"><ellipse rx="17.5" ry="21"/><text y="6">→</text></g>
<g id="k17-10" class="k D" transform="translate(552 893.7)"><ellipse rx="17.5" ry="21"/><text y="6">→</text></g>
<g id="k18-1" class="k D" transform="translate(84 945.7)"><ellipse rx="17.5" ry="21"/><text y="6">←</text></g>
<g id="k18-2" class="k D" transform="translate(136 945.7)"><ellipse rx="17.5" ry="21"/><text y="6">←</text></g>
<g id="k18-3" class="k B" transform="translate(188 945.7)"><ellipse rx="17.5" ry="21"/><text y="6">←</text></g>
<g id="k18-4" class="k W" transform="translate(240 945.7)"><ellipse rx="17.5" ry="21"/><text y="6">←</text></g>
<g id="k18-5" class="k B" transform="translate(292 945.7)"><ellipse rx="17.5" ry="21"/><text y="6">←</text></g>
<g id="k18-6" class="k D" transform="translate(344 945.7)"><ellipse rx="17.5" ry="21"/><text y="6">←</text></g>
<g id="k18-7" class="k W" transform="translate(396 945.7)"><ellipse rx="17.5" ry="21"/><text y="6">←</text></g>
<g id="k18-8" class="k W" transform="translate(448 945.7)"><ellipse rx="17.5" ry="21"/><text y="6">←</text></g>
<g id="k18-9" class="k B" transform="translate(500 945.7)"><ellipse rx="17.5" ry="21"/><text y="6">←</text></g>
<g id="k18-10" class="k D" transform="translate(552 945.7)"><ellipse rx="17.5" ry="21"/><text y="6">←</text></g>
<g id="k19-1" class="k D" transform="translate(84 997.7)"><ellipse rx="17.5" ry="21"/><text y="6">→</text></g>
<g id="k19-2" class="k D" transform="translate(136 997.7)"><ellipse rx="17.5" ry="21"/><text y="6">→</text></g>
<g id="k19-3" class="k D" transform="translate(188 997.7)"><ellipse rx="17.5" ry="21"/><text y="6">→</text></g>
<g id="k19-4" class="k B" transform="translate(240 997.7)"><ellipse rx="17.5" ry="21"/><text y="6">→</text></g>
<g id="k19-5" class="k W" transform="translate(292 997.7)"><ellipse rx="17.5" ry="21"/><text y="6">→</text></g>
<g id="k19-6" class="k D" transform="translate(344 997.7)"><ellipse rx="17.5" ry="21"/><text y="6">→</text></g>
<g id="k19-7" class="k B" transform="translate(396 997.7)"><ellipse rx="17.5" ry="21"/><text y="6">→</text></g>
<g id="k19-8" class="k W" transform="translate(448 997.7)"><ellipse rx="17.5" ry="21"/><text y="6">→</text></g>
<g id="k19-9" class="k W" transform="translate(500 997.7)"><ellipse rx="17.5" ry="21"/><text y="6">→</text></g>
<g id="k19-10" class="k B" transform="translate(552 997.7)"><ellipse rx="17.5" ry="21"/><text y="6">→</text></g>
<g id="k20-1" class="k D" transform="translate(84 1049.7)"><ellipse rx="17.5" ry="21"/><text y="6">←</text></g>
<g id="k20-2" class="k D" transform="translate(136 1049.7)"><ellipse rx="17.5" ry="21"/><text y="6">←</text></g>
<g id="k20-3" class="k D" transform="translate(188 1049.7)"><ellipse rx="17.5" ry="21"/><text y="6">←</text></g>
<g id="k20-4" class="k D" transform="translate(240 1049.7)"><ellipse rx="17.5" ry="21"/><text y="6">←</text></g>
<g id="k20-5" class="k W" transform="translate(292 1049.7)"><ellipse rx="17.5" ry="21"/><text y="6">←</text></g>
<g id="k20-6" class="k B" transform="translate(344 1049.7)"><ellipse rx="17.5" ry="21"/><text y="6">←</text></g>
<g id="k20-7" class="k D" transform="translate(396 1049.7)"><ellipse rx="17.5" ry="21"/><text y="6">←</text></g>
<g id="k20-8" class="k B" transform="translate(448 1049.7)"><ellipse rx="17.5" ry="21"/><text y="6">←</text></g>
<g id="k20-9" class="k W" transform="translate(500 1049.7)"><ellipse rx="17.5" ry="21"/><text y="6">←</text></g>
<g id="k20-10" class="k W" transform="translate(552 1049.7)"><ellipse rx="17.5" ry="21"/><text y="6">←</text></g>
<g id="k21-1" class="k D" transform="translate(84 1101.7)"><ellipse rx="17.5" ry="21"/><text y="6">→</text></g>
<g id="k21-2" class="k D" transform="translate(136 1101.7)"><ellipse rx="17.5" ry="21"/><text y="6">→</text></g>
<g id="k21-3" class="k B" transform="translate(188 1101.7)"><ellipse rx="17.5" ry="21"/><text y="6">→</text></g>
<g id="k21-4" class="k W" transform="translate(240 1101.7)"><ellipse rx="17.5" ry="21"/><text y="6">→</text></g>
<g id="k21-5" class="k B" transform="translate(292 1101.7)"><ellipse rx="17.5" ry="21"/><text y="6">→</text></g>
<g id="k21-6" class="k B" transform="translate(344 1101.7)"><ellipse rx="17.5" ry="21"/><text y="6">→</text></g>
<g id="k21-7" class="k D" transform="translate(396 1101.7)"><ellipse rx="17.5" ry="21"/><text y="6">→</text></g>
<g id="k21-8" class="k D" transform="translate(448 1101.7)"><ellipse rx="17.5" ry="21"/><text y="6">→</text></g>
<g id="k21-9" class="k B" transform="translate(500 1101.7)"><ellipse rx="17.5" ry="21"/><text y="6">→</text></g>
<g id="k21-10" class="k W" transform="translate(552 1101.7)"><ellipse rx="17.5" ry="21"/><text y="6">→</text></g>
<g id="k22-1" class="k D" transform="translate(84 1153.7)"><ellipse rx="17.5" ry="21"/><text y="6">←</text></g>
<g id="k22-2" class="k D" transform="translate(136 1153.7)"><ellipse rx="17.5" ry="21"/><text y="6">←</text></g>
<g id="k22-3" class="k D" transform="translate(188 1153.7)"><ellipse rx="17.5" ry="21"/><text y="6">←</text></g>
<g id="k22-4" class="k B" transform="translate(240 1153.7)"><ellipse rx="17.5" ry="21"/><text y="6">←</text></g>
<g id="k22-5" class="k W" transform="translate(292 1153.7)"><ellipse rx="17.5" ry="21"/><text y="6">←</text></g>
<g id="k22-6" class="k D" transform="translate(344 1153.7)"><ellipse rx="17.5" ry="21"/><text y="6">←</text></g>
<g id="k22-7" class="k B" transform="translate(396 1153.7)"><ellipse rx="17.5" ry="21"/><text y="6">←</text></g>
<g id="k22-8" class="k D" transform="translate(448 1153.7)"><ellipse rx="17.5" ry="21"/><text y="6">←</text></g>
<g id="k22-9" class="k B" transform="translate(500 1153.7)"><ellipse rx="17.5" ry="21"/><text y="6">←</text></g>
<g id="k22-10" class="k B" transform="translate(552 1153.7)"><ellipse rx="17.5" ry="21"/><text y="6">←</text></g>
<g id="k23-1" class="k D" transform="translate(84 1205.7)"><ellipse rx="17.5" ry="21"/><text y="6">→</text></g>
<g id="k23-2" class="k D" transform="translate(136 1205.7)"><ellipse rx="17.5" ry="21"/><text y="6">→</text></g>
<g id="k23-3" class="k D" transform="translate(188 1205.7)"><ellipse rx="17.5" ry="21"/><text y="6">→</text></g>
<g id="k23-4" class="k B" transform="translate(240 1205.7)"><ellipse rx="17.5" ry="21"/><text y="6">→</text></g>
<g id="k23-5" class="k W" transform="translate(292 1205.7)"><ellipse rx="17.5" ry="21"/><text y="6">→</text></g>
<g id="k23-6" class="k W" transform="translate(344 1205.7)"><ellipse rx="17.5" ry="21"/><text y="6">→</text></g>
<g id="k23-7" class="k B" transform="translate(396 1205.7)"><ellipse rx="17.5" ry="21"/><text y="6">→</text></g>
<g id="k23-8" class="k D" transform="translate(448 1205.7)"><ellipse rx="17.5" ry="21"/><text y="6">→</text></g>
<g id="k23-9" class="k D" transform="translate(500 1205.7)"><ellipse rx="17.5" ry="21"/><text y="6">→</text></g>
<g id="k23-10" class="k D" transform="translate(552 1205.7)"><ellipse rx="17.5" ry="21"/><text y="6">→</text></g>
<g id="k24-1" class="k D" transform="translate(84 1257.7)"><ellipse rx="17.5" ry="21"/><text y="6">←</text></g>
<g id="k24-2" class="k D" transform="translate(136 1257.7)"><ellipse rx="17.5" ry="21"/><text y="6">←</text></g>
<g id="k24-3" class="k D" transform="translate(188 1257.7)"><ellipse rx="17.5" ry="21"/><text y="6">←</text></g>
<g id="k24-4" class="k D" transform="translate(240 1257.7)"><ellipse rx="17.5" ry="21"/><text y="6">←</text></g>
<g id="k24-5" class="k B" transform="translate(292 1257.7)"><ellipse rx="17.5" ry="21"/><text y="6">←</text></g>
<g id="k24-6" class="k W" transform="translate(344 1257.7)"><ellipse rx="17.5" ry="21"/><text y="6">←</text></g>
<g id="k24-7" class="k B" transform="translate(396 1257.7)"><ellipse rx="17.5" ry="21"/><text y="6">←</text></g>
<g id="k24-8" class="k D" transform="translate(448 1257.7)"><ellipse rx="17.5" ry="21"/><text y="6">←</text></g>
<g id="k24-9" class="k D" transform="translate(500 1257.7)"><ellipse rx="17.5" ry="21"/><text y="6">←</text></g>
<g id="k24-10" class="k D" transform="translate(552 1257.7)"><ellipse rx="17.5" ry="21"/><text y="6">←</text></g>
<g id="k25-1" class="k D" transform="translate(84 1309.7)"><ellipse rx="17.5" ry="21"/><text y="6">→</text></g>
<g id="k25-2" class="k D" transform="translate(136 1309.7)"><ellipse rx="17.5" ry="21"/><text y="6">→</text></g>
<g id="k25-3" class="k D" transform="translate(188 1309.7)"><ellipse rx="17.5" ry="21"/><text y="6">→</text></g>
<g id="k25-4" class="k D" transform="translate(240 1309.7)"><ellipse rx="17.5" ry="21"/><text y="6">→</text></g>
<g id="k25-5" class="k B" transform="translate(292 1309.7)"><ellipse rx="17.5" ry="21"/><text y="6">→</text></g>
<g id="k25-6" class="k W" transform="translate(344 1309.7)"><ellipse rx="17.5" ry="21"/><text y="6">→</text></g>
<g id="k25-7" class="k B" transform="translate(396 1309.7)"><ellipse rx="17.5" ry="21"/><text y="6">→</text></g>
<g id="k25-8" class="k D" transform="translate(448 1309.7)"><ellipse rx="17.5" ry="21"/><text y="6">→</text></g>
<g id="k25-9" class="k D" transform="translate(500 1309.7)"><ellipse rx="17.5" ry="21"/><text y="6">→</text></g>
<g id="k25-10" class="k D" transform="translate(552 1309.7)"><ellipse rx="17.5" ry="21"/><text y="6">→</text></g>
<g id="k26-1" class="k D" transform="translate(84 1361.7)"><ellipse rx="17.5" ry="21"/><text y="6">←</text></g>
<g id="k26-2" class="k D" transform="translate(136 1361.7)"><ellipse rx="17.5" ry="21"/><text y="6">←</text></g>
<g id="k26-3" class="k D" transform="translate(188 1361.7)"><ellipse rx="17.5" ry="21"/><text y="6">←</text></g>
<g id="k26-4" class="k B" transform="translate(240 1361.7)"><ellipse rx="17.5" ry="21"/><text y="6">←</text></g>
<g id="k26-5" class="k W" transform="translate(292 1361.7)"><ellipse rx="17.5" ry="21"/><text y="6">←</text></g>
<g id="k26-6" class="k D" transform="translate(344 1361.7)"><ellipse rx="17.5" ry="21"/><text y="6">←</text></g>
<g id="k26-7" class="k D" transform="translate(396 1361.7)"><ellipse rx="17.5" ry="21"/><text y="6">←</text></g>
<g id="k26-8" class="k D" transform="translate(448 1361.7)"><ellipse rx="17.5" ry="21"/><text y="6">←</text></g>
<g id="k26-9" class="k D" transform="translate(500 1361.7)"><ellipse rx="17.5" ry="21"/><text y="6">←</text></g>
<g id="k26-10" class="k D" transform="translate(552 1361.7)"><ellipse rx="17.5" ry="21"/><text y="6">←</text></g>
<g id="k27-1" class="k D" transform="translate(84 1413.7)"><ellipse rx="17.5" ry="21"/><text y="6">→</text></g>
<g id="k27-2" class="k D" transform="translate(136 1413.7)"><ellipse rx="17.5" ry="21"/><text y="6">→</text></g>
<g id="k27-3" class="k D" transform="translate(188 1413.7)"><ellipse rx="17.5" ry="21"/><text y="6">→</text></g>
<g id="k27-4" class="k W" transform="translate(240 1413.7)"><ellipse rx="17.5" ry="21"/><text y="6">→</text></g>
<g id="k27-5" class="k W" transform="translate(292 1413.7)"><ellipse rx="17.5" ry="21"/><text y="6">→</text></g>
<g id="k27-6" class="k B" transform="translate(344 1413.7)"><ellipse rx="17.5" ry="21"/><text y="6">→</text></g>
<g id="k27-7" class="k D" transform="translate(396 1413.7)"><ellipse rx="17.5" ry="21"/><text y="6">→</text></g>
<g id="k27-8" class="k D" transform="translate(448 1413.7)"><ellipse rx="17.5" ry="21"/><text y="6">→</text></g>
<g id="k27-9" class="k D" transform="translate(500 1413.7)"><ellipse rx="17.5" ry="21"/><text y="6">→</text></g>
<g id="k27-10" class="k D" transform="translate(552 1413.7)"><ellipse rx="17.5" ry="21"/><text y="6">→</text></g>
<g id="k28-1" class="k D" transform="translate(84 1465.7)"><ellipse rx="17.5" ry="21"/><text y="6">←</text></g>
<g id="k28-2" class="k D" transform="translate(136 1465.7)"><ellipse rx="17.5" ry="21"/><text y="6">←</text></g>
<g id="k28-3" class="k B" transform="translate(188 1465.7)"><ellipse rx="17.5" ry="21"/><text y="6">←</text></g>
<g id="k28-4" class="k W" transform="translate(240 1465.7)"><ellipse rx="17.5" ry="21"/><text y="6">←</text></g>
<g id="k28-5" class="k B" transform="translate(292 1465.7)"><ellipse rx="17.5" ry="21"/><text y="6">←</text></g>
<g id="k28-6" class="k D" transform="translate(344 1465.7)"><ellipse rx="17.5" ry="21"/><text y="6">←</text></g>
<g id="k28-7" class="k D" transform="translate(396 1465.7)"><ellipse rx="17.5" ry="21"/><text y="6">←</text></g>
<g id="k28-8" class="k D" transform="translate(448 1465.7)"><ellipse rx="17.5" ry="21"/><text y="6">←</text></g>
<g id="k28-9" class="k D" transform="translate(500 1465.7)"><ellipse rx="17.5" ry="21"/><text y="6">←</text></g>
<g id="k28-10" class="k D" transform="translate(552 1465.7)"><ellipse rx="17.5" ry="21"/><text y="6">←</text></g>
<g id="k29-1" class="k D" transform="translate(84 1517.7)"><ellipse rx="17.5" ry="21"/><text y="6">→</text></g>
<g id="k29-2" class="k D" transform="translate(136 1517.7)"><ellipse rx="17.5" ry="21"/><text y="6">→</text></g>
<g id="k29-3" class="k B" transform="translate(188 1517.7)"><ellipse rx="17.5" ry="21"/><text y="6">→</text></g>
<g id="k29-4" class="k W" transform="translate(240 1517.7)"><ellipse rx="17.5" ry="21"/><text y="6">→</text></g>
<g id="k29-5" class="k B" transform="translate(292 1517.7)"><ellipse rx="17.5" ry="21"/><text y="6">→</text></g>
<g id="k29-6" class="k B" transform="translate(344 1517.7)"><ellipse rx="17.5" ry="21"/><text y="6">→</text></g>
<g id="k29-7" class="k D" transform="translate(396 1517.7)"><ellipse rx="17.5" ry="21"/><text y="6">→</text></g>
<g id="k29-8" class="k D" transform="translate(448 1517.7)"><ellipse rx="17.5" ry="21"/><text y="6">→</text></g>
<g id="k29-9" class="k D" transform="translate(500 1517.7)"><ellipse rx="17.5" ry="21"/><text y="6">→</text></g>
<g id="k29-10" class="k D" transform="translate(552 1517.7)"><ellipse rx="17.5" ry="21"/><text y="6">→</text></g>
<g id="k30-1" class="k D" transform="translate(84 1569.7)"><ellipse rx="17.5" ry="21"/><text y="6">←</text></g>
<g id="k30-2" class="k D" transform="translate(136 1569.7)"><ellipse rx="17.5" ry="21"/><text y="6">←</text></g>
<g id="k30-3" class="k B" transform="translate(188 1569.7)"><ellipse rx="17.5" ry="21"/><text y="6">←</text></g>
<g id="k30-4" class="k W" transform="translate(240 1569.7)"><ellipse rx="17.5" ry="21"/><text y="6">←</text></g>
<g id="k30-5" class="k W" transform="translate(292 1569.7)"><ellipse rx="17.5" ry="21"/><text y="6">←</text></g>
<g id="k30-6" class="k B" transform="translate(344 1569.7)"><ellipse rx="17.5" ry="21"/><text y="6">←</text></g>
<g id="k30-7" class="k D" transform="translate(396 1569.7)"><ellipse rx="17.5" ry="21"/><text y="6">←</text></g>
<g id="k30-8" class="k D" transform="translate(448 1569.7)"><ellipse rx="17.5" ry="21"/><text y="6">←</text></g>
<g id="k30-9" class="k D" transform="translate(500 1569.7)"><ellipse rx="17.5" ry="21"/><text y="6">←</text></g>
<g id="k30-10" class="k D" transform="translate(552 1569.7)"><ellipse rx="17.5" ry="21"/><text y="6">←</text></g>
<g id="k31-1" class="k D" transform="translate(84 1621.7)"><ellipse rx="17.5" ry="21"/><text y="6">→</text></g>
<g id="k31-2" class="k D" transform="translate(136 1621.7)"><ellipse rx="17.5" ry="21"/><text y="6">→</text></g>
<g id="k31-3" class="k D" transform="translate(188 1621.7)"><ellipse rx="17.5" ry="21"/><text y="6">→</text></g>
<g id="k31-4" class="k B" transform="translate(240 1621.7)"><ellipse rx="17.5" ry="21"/><text y="6">→</text></g>
<g id="k31-5" class="k W" transform="translate(292 1621.7)"><ellipse rx="17.5" ry="21"/><text y="6">→</text></g>
<g id="k31-6" class="k B" transform="translate(344 1621.7)"><ellipse rx="17.5" ry="21"/><text y="6">→</text></g>
<g id="k31-7" class="k D" transform="translate(396 1621.7)"><ellipse rx="17.5" ry="21"/><text y="6">→</text></g>
<g id="k31-8" class="k D" transform="translate(448 1621.7)"><ellipse rx="17.5" ry="21"/><text y="6">→</text></g>
<g id="k31-9" class="k D" transform="translate(500 1621.7)"><ellipse rx="17.5" ry="21"/><text y="6">→</text></g>
<g id="k31-10" class="k D" transform="translate(552 1621.7)"><ellipse rx="17.5" ry="21"/><text y="6">→</text></g>
<g id="k32-1" class="k D" transform="translate(84 1673.7)"><ellipse rx="17.5" ry="21"/><text y="6">←</text></g>
<g id="k32-2" class="k D" transform="translate(136 1673.7)"><ellipse rx="17.5" ry="21"/><text y="6">←</text></g>
<g id="k32-3" class="k D" transform="translate(188 1673.7)"><ellipse rx="17.5" ry="21"/><text y="6">←</text></g>
<g id="k32-4" class="k B" transform="translate(240 1673.7)"><ellipse rx="17.5" ry="21"/><text y="6">←</text></g>
<g id="k32-5" class="k W" transform="translate(292 1673.7)"><ellipse rx="17.5" ry="21"/><text y="6">←</text></g>
<g id="k32-6" class="k W" transform="translate(344 1673.7)"><ellipse rx="17.5" ry="21"/><text y="6">←</text></g>
<g id="k32-7" class="k B" transform="translate(396 1673.7)"><ellipse rx="17.5" ry="21"/><text y="6">←</text></g>
<g id="k32-8" class="k D" transform="translate(448 1673.7)"><ellipse rx="17.5" ry="21"/><text y="6">←</text></g>
<g id="k32-9" class="k D" transform="translate(500 1673.7)"><ellipse rx="17.5" ry="21"/><text y="6">←</text></g>
<g id="k32-10" class="k D" transform="translate(552 1673.7)"><ellipse rx="17.5" ry="21"/><text y="6">←</text></g>
<g id="k33-1" class="k D" transform="translate(84 1725.7)"><ellipse rx="17.5" ry="21"/><text y="6">→</text></g>
<g id="k33-2" class="k D" transform="translate(136 1725.7)"><ellipse rx="17.5" ry="21"/><text y="6">→</text></g>
<g id="k33-3" class="k D" transform="translate(188 1725.7)"><ellipse rx="17.5" ry="21"/><text y="6">→</text></g>
<g id="k33-4" class="k D" transform="translate(240 1725.7)"><ellipse rx="17.5" ry="21"/><text y="6">→</text></g>
<g id="k33-5" class="k B" transform="translate(292 1725.7)"><ellipse rx="17.5" ry="21"/><text y="6">→</text></g>
<g id="k33-6" class="k W" transform="translate(344 1725.7)"><ellipse rx="17.5" ry="21"/><text y="6">→</text></g>
<g id="k33-7" class="k W" transform="translate(396 1725.7)"><ellipse rx="17.5" ry="21"/><text y="6">→</text></g>
<g id="k33-8" class="k B" transform="translate(448 1725.7)"><ellipse rx="17.5" ry="21"/><text y="6">→</text></g>
<g id="k33-9" class="k D" transform="translate(500 1725.7)"><ellipse rx="17.5" ry="21"/><text y="6">→</text></g>
<g id="k33-10" class="k D" transform="translate(552 1725.7)"><ellipse rx="17.5" ry="21"/><text y="6">→</text></g>
<g id="k34-1" class="k D" transform="translate(84 1777.7)"><ellipse rx="17.5" ry="21"/><text y="6">←</text></g>
<g id="k34-2" class="k D" transform="translate(136 1777.7)"><ellipse rx="17.5" ry="21"/><text y="6">←</text></g>
<g id="k34-3" class="k D" transform="translate(188 1777.7)"><ellipse rx="17.5" ry="21"/><text y="6">←</text></g>
<g id="k34-4" class="k D" transform="translate(240 1777.7)"><ellipse rx="17.5" ry="21"/><text y="6">←</text></g>
<g id="k34-5" class="k D" transform="translate(292 1777.7)"><ellipse rx="17.5" ry="21"/><text y="6">←</text></g>
<g id="k34-6" class="k B" transform="translate(344 1777.7)"><ellipse rx="17.5" ry="21"/><text y="6">←</text></g>
<g id="k34-7" class="k W" transform="translate(396 1777.7)"><ellipse rx="17.5" ry="21"/><text y="6">←</text></g>
<g id="k34-8" class="k B" transform="translate(448 1777.7)"><ellipse rx="17.5" ry="21"/><text y="6">←</text></g>
<g id="k34-9" class="k B" transform="translate(500 1777.7)"><ellipse rx="17.5" ry="21"/><text y="6">←</text></g>
<g id="k34-10" class="k D" transform="translate(552 1777.7)"><ellipse rx="17.5" ry="21"/><text y="6">←</text></g>
<g id="k35-1" class="k D" transform="translate(84 1829.7)"><ellipse rx="17.5" ry="21"/><text y="6">→</text></g>
<g id="k35-2" class="k D" transform="translate(136 1829.7)"><ellipse rx="17.5" ry="21"/><text y="6">→</text></g>
<g id="k35-3" class="k D" transform="translate(188 1829.7)"><ellipse rx="17.5" ry="21"/><text y="6">→</text></g>
<g id="k35-4" class="k D" transform="translate(240 1829.7)"><ellipse rx="17.5" ry="21"/><text y="6">→</text></g>
<g id="k35-5" class="k D" transform="translate(292 1829.7)"><ellipse rx="17.5" ry="21"/><text y="6">→</text></g>
<g id="k35-6" class="k B" transform="translate(344 1829.7)"><ellipse rx="17.5" ry="21"/><text y="6">→</text></g>
<g id="k35-7" class="k W" transform="translate(396 1829.7)"><ellipse rx="17.5" ry="21"/><text y="6">→</text></g>
<g id="k35-8" class="k B" transform="translate(448 1829.7)"><ellipse rx="17.5" ry="21"/><text y="6">→</text></g>
<g id="k35-9" class="k D" transform="translate(500 1829.7)"><ellipse rx="17.5" ry="21"/><text y="6">→</text></g>
<g id="k35-10" class="k D" transform="translate(552 1829.7)"><ellipse rx="17.5" ry="21"/><text y="6">→</text></g>
</g>
<g id="ends">
<text class="am" x="34.5" y="65.3">A</text>
<text class="am" x="603" y="1833.3">A</text>
</g>
<g id="watermark">
<rect x="236" y="963" width="161" height="17" rx="2" fill="#fff" fill-opacity="0.65"/>
<text x="242" y="977" font-family="Liberation Sans, Arial, sans-serif" font-size="15" font-weight="bold" fill="#444" textLength="151" lengthAdjust="spacingAndGlyphs">BRACELETBOOK.COM</text>
</g>
</g>
<g id="row-numbers" class="lbl">
<text class="le" x="21" y="66.2">1</text><text class="le" x="21" y="118.2">2</text><text class="le" x="21" y="170.2">3</text><text class="le" x="21" y="222.2">4</text><text class="le" x="21" y="274.2">5</text><text class="le" x="21" y="326.2">6</text><text class="le" x="21" y="378.2">7</text><text class="le" x="21" y="430.2">8</text><text class="le" x="21" y="482.2">9</text><text class="le" x="21" y="534.2">10</text><text class="le" x="21" y="586.2">11</text><text class="le" x="21" y="638.2">12</text><text class="le" x="21" y="690.2">13</text><text class="le" x="21" y="742.2">14</text><text class="le" x="21" y="794.2">15</text><text class="le" x="21" y="846.2">16</text><text class="le" x="21" y="898.2">17</text><text class="le" x="21" y="950.2">18</text><text class="le" x="21" y="1002.2">19</text><text class="le" x="21" y="1054.2">20</text><text class="le" x="21" y="1106.2">21</text><text class="le" x="21" y="1158.2">22</text><text class="le" x="21" y="1210.2">23</text><text class="le" x="21" y="1262.2">24</text><text class="le" x="21" y="1314.2">25</text><text class="le" x="21" y="1366.2">26</text><text class="le" x="21" y="1418.2">27</text><text class="le" x="21" y="1470.2">28</text><text class="le" x="21" y="1522.2">29</text><text class="le" x="21" y="1574.2">30</text><text class="le" x="21" y="1626.2">31</text><text class="le" x="21" y="1678.2">32</text><text class="le" x="21" y="1730.2">33</text><text class="le" x="21" y="1782.2">34</text><text class="le" x="21" y="1834.2">35</text>
<text x="615" y="66.2">1</text><text x="615" y="118.2">2</text><text x="615" y="170.2">3</text><text x="615" y="222.2">4</text><text x="615" y="274.2">5</text><text x="615" y="326.2">6</text><text x="615" y="378.2">7</text><text x="615" y="430.2">8</text><text x="615" y="482.2">9</text><text x="615" y="534.2">10</text><text x="615" y="586.2">11</text><text x="615" y="638.2">12</text><text x="615" y="690.2">13</text><text x="615" y="742.2">14</text><text x="615" y="794.2">15</text><text x="615" y="846.2">16</text><text x="615" y="898.2">17</text><text x="615" y="950.2">18</text><text x="615" y="1002.2">19</text><text x="615" y="1054.2">20</text><text x="615" y="1106.2">21</text><text x="615" y="1158.2">22</text><text x="615" y="1210.2">23</text><text x="615" y="1262.2">24</text><text x="615" y="1314.2">25</text><text x="615" y="1366.2">26</text><text x="615" y="1418.2">27</text><text x="615" y="1470.2">28</text><text x="615" y="1522.2">29</text><text x="615" y="1574.2">30</text><text x="615" y="1626.2">31</text><text x="615" y="1678.2">32</text><text x="615" y="1730.2">33</text><text x="615" y="1782.2">34</text><text x="615" y="1834.2">35</text>
</g>
</svg>
